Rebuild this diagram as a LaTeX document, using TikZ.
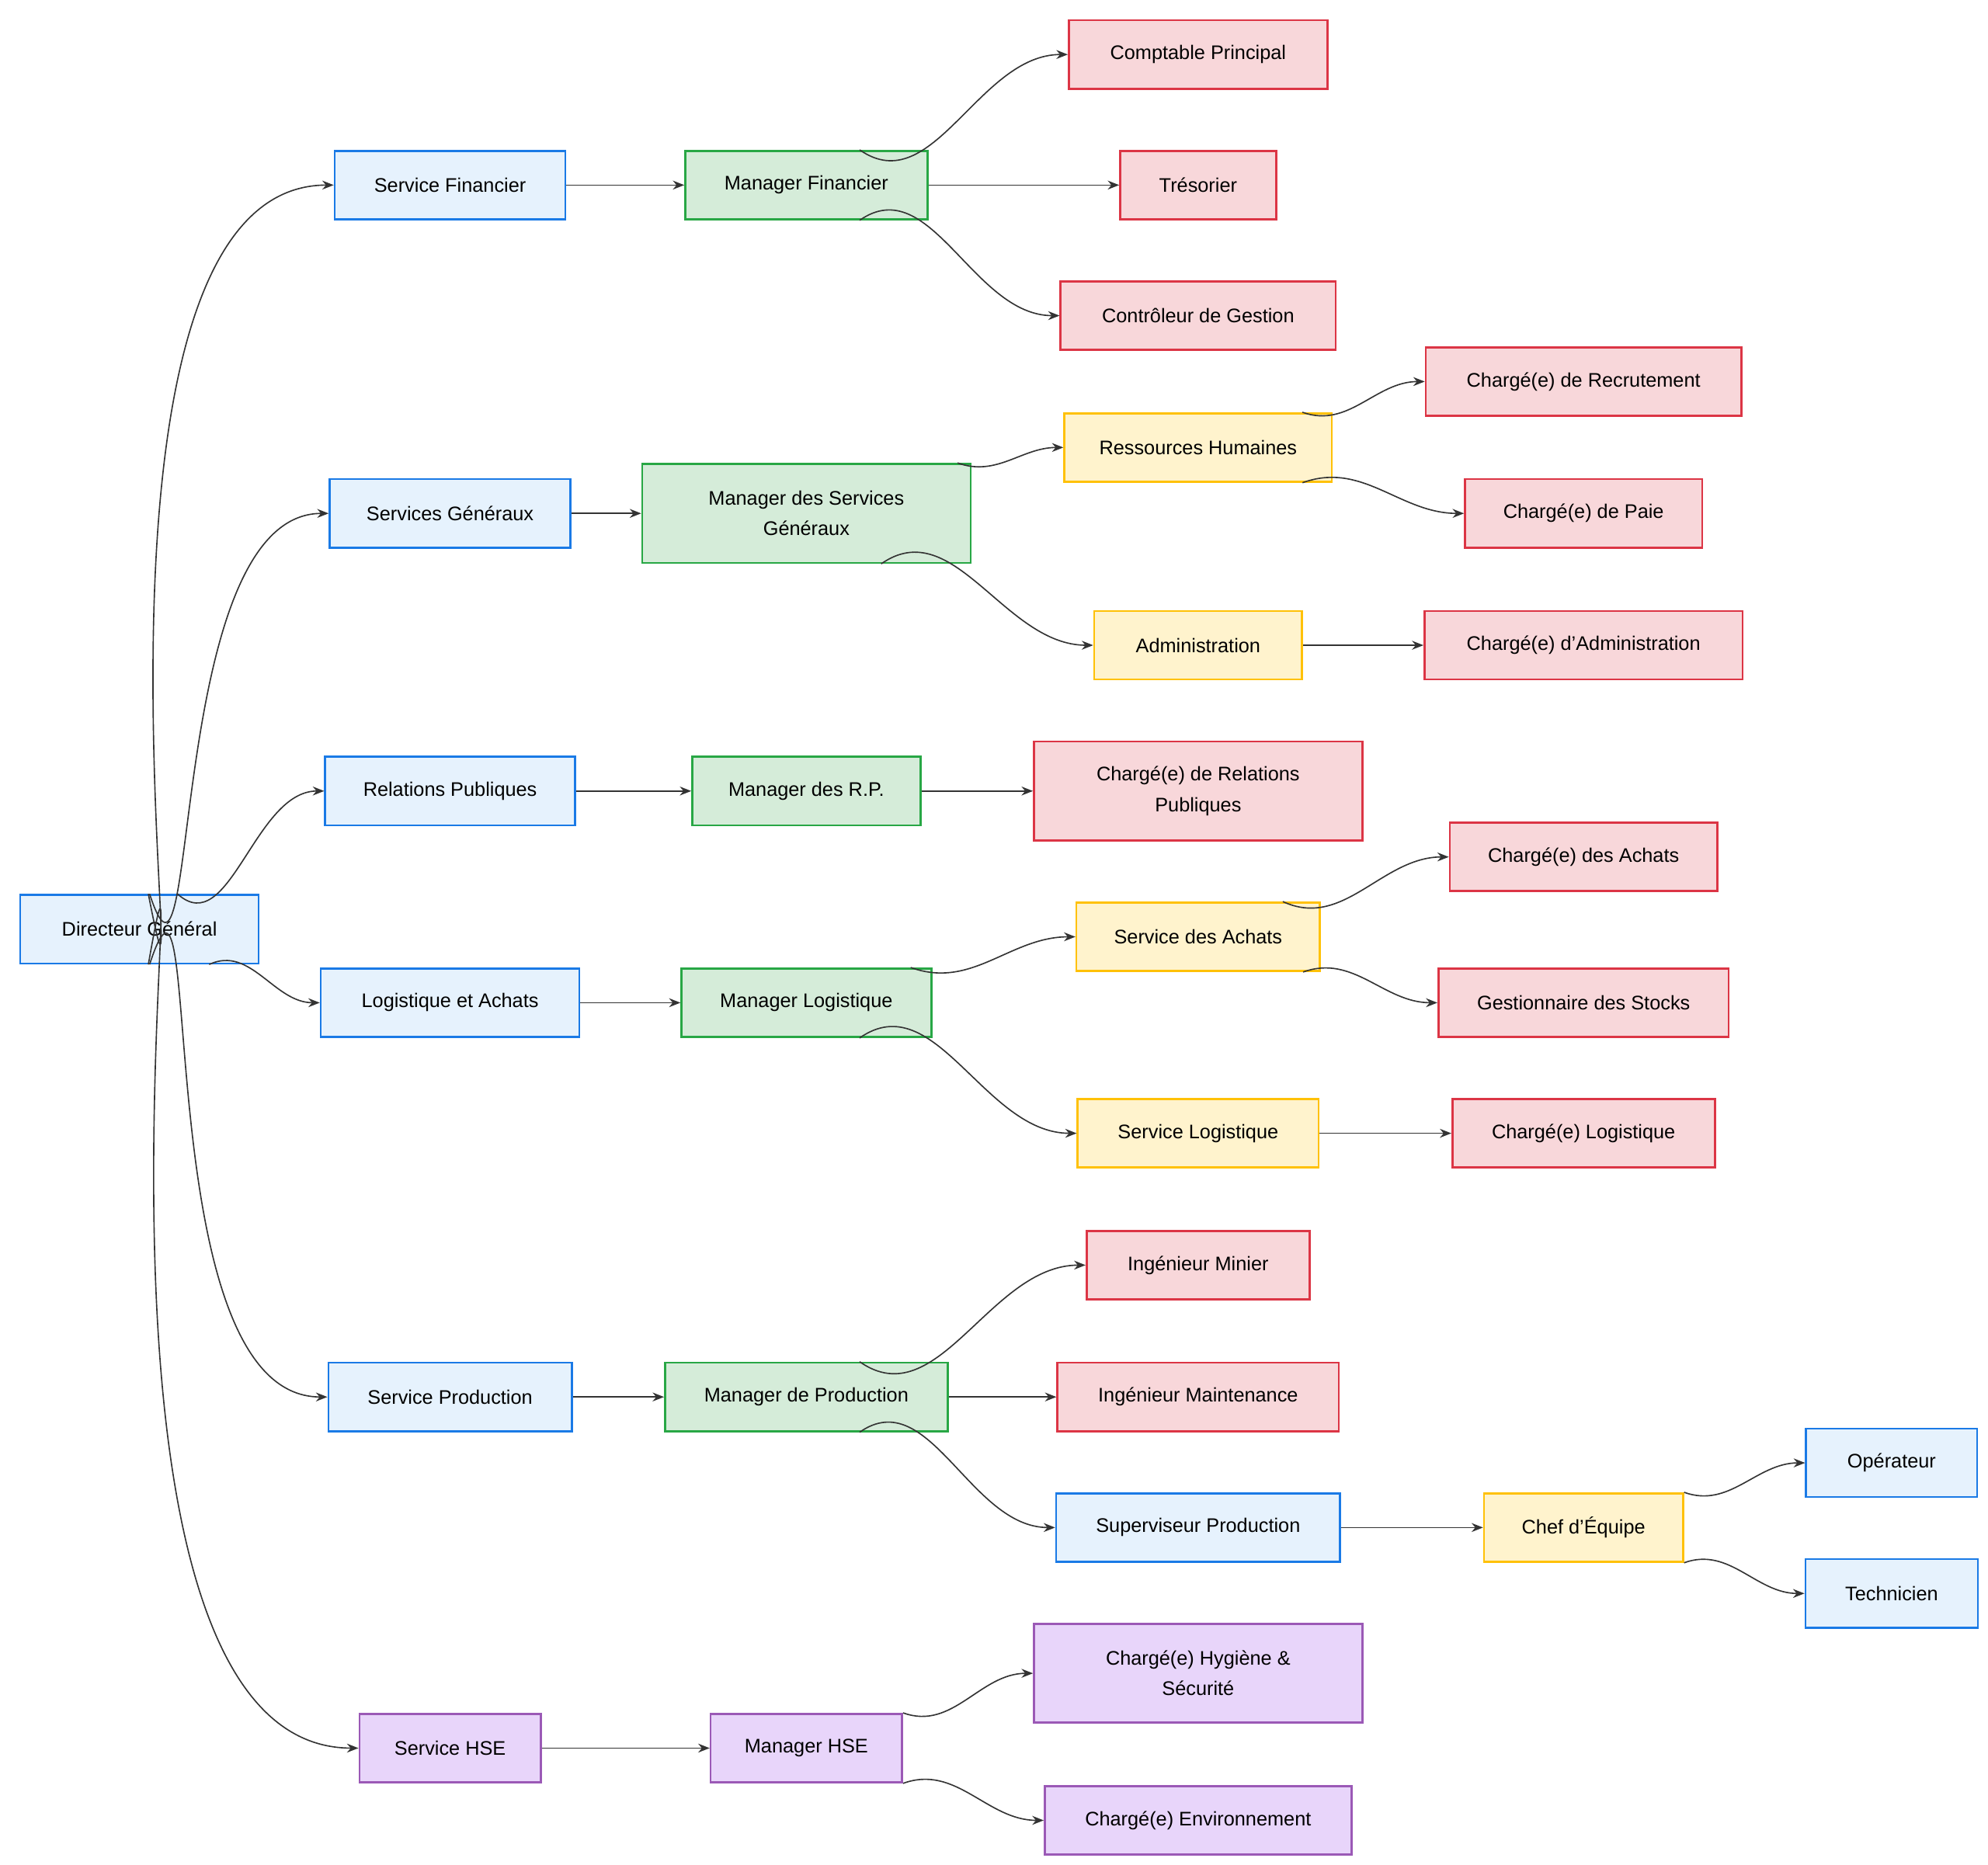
\documentclass[tikz,border=0pt]{standalone}
\usepackage{fontspec}
\setmainfont{Liberation Sans}
\usetikzlibrary{arrows.meta}
\definecolor{bF}{HTML}{E6F2FD}\definecolor{bD}{HTML}{1A7AE6}
\definecolor{gF}{HTML}{D5ECD9}\definecolor{gD}{HTML}{28A745}
\definecolor{rF}{HTML}{F8D7DA}\definecolor{rD}{HTML}{DC3545}
\definecolor{yF}{HTML}{FFF3CD}\definecolor{yD}{HTML}{FFC107}
\definecolor{pF}{HTML}{E8D5FA}\definecolor{pD}{HTML}{9B59B6}
\definecolor{ln}{HTML}{333333}
\begin{document}
\begin{tikzpicture}[x=1pt,y=-1pt,
 box/.style={draw,line width=1.6pt,minimum height=54pt,inner sep=0pt,align=center,font=\fontsize{15.5}{24}\selectfont},
 blue/.style={box,fill=bF,draw=bD},green/.style={box,fill=gF,draw=gD},
 red/.style={box,fill=rF,draw=rD},yel/.style={box,fill=yF,draw=yD},pur/.style={box,fill=pF,draw=pD},
 e/.style={draw=ln,line width=1pt,-{Stealth[length=9pt,width=7pt]}}]
\useasboundingbox[fill=white] (0,0) rectangle (1568,1471);
\node[blue,minimum width=188] (dg) at (110,733) {Directeur Général};
\node[blue,minimum width=182] (sf) at (355,146) {Service Financier};
\node[green,minimum width=191] (mf) at (636,146) {Manager Financier};
\node[red,minimum width=204] (cp) at (945,43) {Comptable Principal};
\node[red,minimum width=123] (tr) at (945,146) {Trésorier};
\node[red,minimum width=217] (cg) at (945,249) {Contrôleur de Gestion};
\node[blue,minimum width=190] (sg) at (355,405) {Services Généraux};
\node[green,minimum width=259,minimum height=78] (msg) at (636,405) {Manager des Services\\Généraux};
\node[yel,minimum width=211] (rh) at (945,353) {Ressources Humaines};
\node[red,minimum width=249] (rec) at (1249,301) {Chargé(e) de Recrutement};
\node[red,minimum width=187] (paie) at (1249,405) {Chargé(e) de Paie};
\node[yel,minimum width=164] (adm) at (945,509) {Administration};
\node[red,minimum width=251] (cadm) at (1249,509) {Chargé(e) d'Administration};
\node[blue,minimum width=197] (rp) at (355,624) {Relations Publiques};
\node[green,minimum width=180] (mrp) at (636,624) {Manager des R.P.};
\node[red,minimum width=259,minimum height=78] (crp) at (945,624) {Chargé(e) de Relations\\Publiques};
\node[blue,minimum width=204] (la) at (355,791) {Logistique et Achats};
\node[green,minimum width=197] (ml) at (636,791) {Manager Logistique};
\node[yel,minimum width=192] (sa) at (945,739) {Service des Achats};
\node[red,minimum width=211] (ca) at (1249,676) {Chargé(e) des Achats};
\node[red,minimum width=229] (gs) at (1249,791) {Gestionnaire des Stocks};
\node[yel,minimum width=190] (sl) at (945,894) {Service Logistique};
\node[red,minimum width=207] (cl) at (1249,894) {Chargé(e) Logistique};
\node[blue,minimum width=192] (sp) at (355,1102) {Service Production};
\node[green,minimum width=223] (mp) at (636,1102) {Manager de Production};
\node[red,minimum width=176] (im) at (945,998) {Ingénieur Minier};
\node[red,minimum width=222] (ima) at (945,1102) {Ingénieur Maintenance};
\node[blue,minimum width=224] (sup) at (945,1205) {Superviseur Production};
\node[yel,minimum width=157] (chef) at (1249,1205) {Chef d'Équipe};
\node[blue,minimum width=135] (op) at (1492,1154) {Opérateur};
\node[blue,minimum width=136] (tech) at (1492,1257) {Technicien};
\node[pur,minimum width=143] (hse) at (355,1379) {Service HSE};
\node[pur,minimum width=151] (mh) at (636,1379) {Manager HSE};
\node[pur,minimum width=259,minimum height=78] (hyg) at (945,1320) {Chargé(e) Hygiène \&\\Sécurité};
\node[pur,minimum width=242] (env) at (945,1436) {Chargé(e) Environnement};
% DG edges
\path[e] ([xshift=7]dg.north) to[out=-79,in=180] (sf.west);
\path[e] ([xshift=8]dg.north) to[out=-72,in=180] (sg.west);
\path[e] ([xshift=30]dg.north) to[out=-42,in=180] (rp.west);
\path[e] ([xshift=55]dg.south) to[out=25,in=180] (la.west);
\path[e] ([xshift=8]dg.south) to[out=72,in=180] (sp.west);
\path[e] ([xshift=7]dg.south) to[out=80,in=180] (hse.west);
% horizontal
\path[e] (sf) -- (mf); \path[e] (mf) -- (tr); \path[e] (sg) -- (msg);
\path[e] (adm) -- (cadm); \path[e] (rp) -- (mrp); \path[e] (mrp) -- (crp);
\path[e] (la) -- (ml); \path[e] (sl) -- (cl); \path[e] (sp) -- (mp);
\path[e] (mp) -- (ima); \path[e] (sup) -- (chef); \path[e] (hse) -- (mh);
% curves
\path[e] ([xshift=42]mf.north) to[out=-35,in=180] (cp.west);
\path[e] ([xshift=42]mf.south) to[out=35,in=180] (cg.west);
\path[e] ([xshift=-11]msg.north east) to[out=-20,in=180] (rh.west);
\path[e] ([xshift=59]msg.south) to[out=35,in=180] (adm.west);
\path[e] ([xshift=-24]rh.north east) to[out=-20,in=180] (rec.west);
\path[e] ([xshift=-24]rh.south east) to[out=20,in=180] (paie.west);
\path[e] ([xshift=-17]ml.north east) to[out=-20,in=180] (sa.west);
\path[e] ([xshift=42]ml.south) to[out=35,in=180] (sl.west);
\path[e] ([xshift=-30]sa.north east) to[out=-25,in=180] (ca.west);
\path[e] ([xshift=-14]sa.south east) to[out=20,in=180] (gs.west);
\path[e] ([xshift=42]mp.north) to[out=-35,in=180] (im.west);
\path[e] ([xshift=42]mp.south) to[out=35,in=180] (sup.west);
\path[e] (chef.north east) to[out=-20,in=180] (op.west);
\path[e] (chef.south east) to[out=20,in=180] (tech.west);
\path[e] (mh.north east) to[out=-20,in=180] (hyg.west);
\path[e] (mh.south east) to[out=20,in=180] (env.west);
\end{tikzpicture}
\end{document}
